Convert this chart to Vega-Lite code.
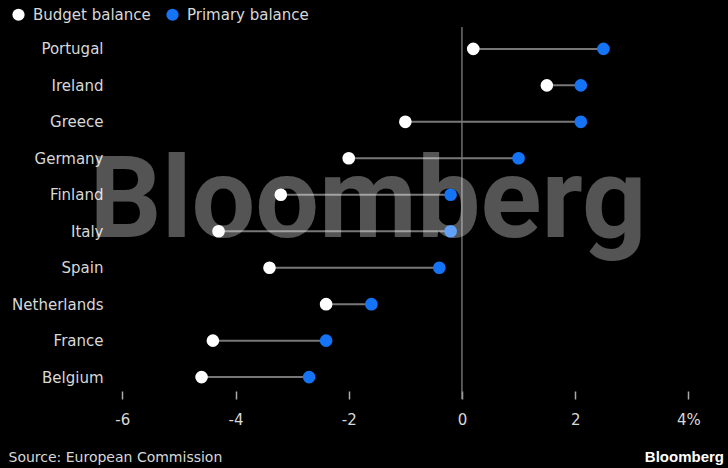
{
  "$schema": "https://vega.github.io/schema/vega-lite/v6.json",
  "autosize": {"type": "none"},
  "width": 600,
  "height": 372,
  "padding": {"left": 111, "top": 27, "right": 17, "bottom": 69},
  "background": "#000000",
  "config": {
    "view": {"stroke": null},
    "font": "DejaVu Sans",
    "text": {"font": "DejaVu Sans"}
  },
  "title": {
    "text": "Bloomberg",
    "orient": "bottom",
    "anchor": "end",
    "font": "Liberation Sans",
    "fontSize": 15,
    "fontWeight": "bold",
    "color": "#ffffff",
    "dx": 13,
    "offset": -14
  },
  "data": {
    "values": [
      {"country": "Portugal", "Budget balance": 0.2, "Primary balance": 2.5},
      {"country": "Ireland", "Budget balance": 1.5, "Primary balance": 2.1},
      {"country": "Greece", "Budget balance": -1.0, "Primary balance": 2.1},
      {"country": "Germany", "Budget balance": -2.0, "Primary balance": 1.0},
      {"country": "Finland", "Budget balance": -3.2, "Primary balance": -0.2},
      {"country": "Italy", "Budget balance": -4.3, "Primary balance": -0.2},
      {"country": "Spain", "Budget balance": -3.4, "Primary balance": -0.4},
      {"country": "Netherlands", "Budget balance": -2.4, "Primary balance": -1.6},
      {"country": "France", "Budget balance": -4.4, "Primary balance": -2.4},
      {"country": "Belgium", "Budget balance": -4.6, "Primary balance": -2.7}
    ]
  },
  "encoding": {
    "y": {
      "field": "country",
      "type": "nominal",
      "sort": null,
      "scale": {"type": "point", "padding": 0.6},
      "axis": {
        "title": null,
        "domain": false,
        "ticks": false,
        "grid": false,
        "labelFontSize": 15,
        "labelColor": "#d8d8d8",
        "labelPadding": 8,
        "labelFont": "DejaVu Sans"
      }
    }
  },
  "layer": [
    {
      "data": {"values": [{"zero": 0}]},
      "mark": {"type": "rule", "color": "#8a8a8a", "strokeWidth": 1.2},
      "encoding": {"x": {"field": "zero", "type": "quantitative"}, "y": null}
    },
    {
      "mark": {"type": "rule", "color": "#777777", "strokeWidth": 2},
      "encoding": {
        "x": {
          "field": "Budget balance",
          "type": "quantitative",
          "scale": {"domain": [-6.2, 4.4], "nice": false, "zero": false},
          "axis": {
            "values": [-6, -4, -2, 0, 2, 4],
            "labelExpr": "datum.value == 4 ? '4%' : '' + datum.value",
            "domain": false,
            "grid": false,
            "tickColor": "#aaaaaa",
            "tickWidth": 1.5,
            "tickSize": 8,
            "offset": -8,
            "labelFontSize": 15,
            "labelColor": "#d8d8d8",
            "labelPadding": 13,
            "labelFont": "DejaVu Sans",
            "title": "Source: European Commission",
            "titleFont": "DejaVu Sans",
            "titleFontWeight": "normal",
            "titleFontSize": 14,
            "titleColor": "#d8d8d8",
            "titleAnchor": "start",
            "titleAlign": "left",
            "titleBaseline": "middle",
            "titleX": -103,
            "titleY": 66
          }
        },
        "x2": {"field": "Primary balance"}
      }
    },
    {
      "transform": [{"fold": ["Budget balance", "Primary balance"], "as": ["series", "value"]}],
      "mark": {"type": "circle", "size": 160, "opacity": 1},
      "encoding": {
        "x": {"field": "value", "type": "quantitative"},
        "color": {
          "field": "series",
          "type": "nominal",
          "scale": {"domain": ["Budget balance", "Primary balance"], "range": ["#ffffff", "#1574f6"]},
          "legend": {
            "title": null,
            "orient": "none",
            "direction": "horizontal",
            "legendX": -100,
            "legendY": -20,
            "symbolType": "circle",
            "symbolSize": 150,
            "labelFontSize": 15,
            "labelColor": "#d8d8d8",
            "labelFont": "DejaVu Sans",
            "labelOffset": 7,
            "columnPadding": 14
          }
        }
      }
    },
    {
      "data": {"values": [{"label": "Bloomberg", "xpos": -1.66, "row": "Italy"}]},
      "mark": {
        "type": "text",
        "font": "Roboto",
        "fontWeight": "bold",
        "fontSize": 113,
        "fill": "#ffffff",
        "fillOpacity": 0.33,
        "align": "center",
        "baseline": "alphabetic",
        "dy": 6
      },
      "encoding": {
        "text": {"field": "label"},
        "x": {"field": "xpos", "type": "quantitative"},
        "y": {"field": "row", "type": "nominal"}
      }
    }
  ]
}
